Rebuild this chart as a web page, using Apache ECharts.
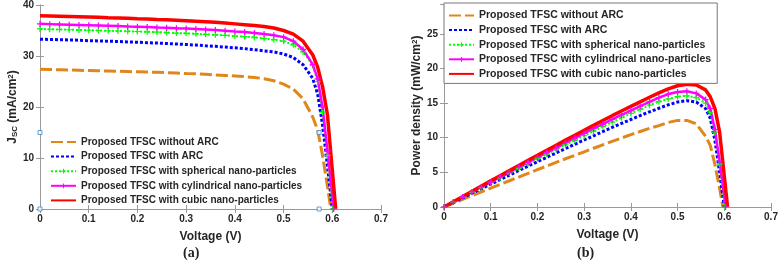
<!DOCTYPE html>
<html>
<head>
<meta charset="utf-8">
<script src="https://cdn.jsdelivr.net/npm/echarts@6/dist/echarts.min.js"></script>
<style>
  html, body { margin: 0; padding: 0; background: #fff; }
  #chart { width: 782px; height: 265px; }
</style>
</head>
<body>
<div id="chart"></div>
<script>
// series names (legend order)
const seriesNames = [
  'Proposed TFSC without ARC',
  'Proposed TFSC with ARC',
  'Proposed TFSC with spherical nano-particles',
  'Proposed TFSC with cylindrical nano-particles',
  'Proposed TFSC with cubic nano-particles'
];
// shared voltage grid (V), each curve then ends at its own Voc
const voltage = [0, 0.02, 0.04, 0.06, 0.08, 0.10, 0.12, 0.14, 0.16, 0.18, 0.20, 0.22, 0.24, 0.26, 0.28, 0.30,
  0.32, 0.34, 0.36, 0.38, 0.40, 0.42, 0.44, 0.46, 0.48, 0.50, 0.52, 0.54, 0.56, 0.57, 0.58, 0.59];
const voc = [0.597, 0.600, 0.601, 0.603, 0.607];

// (a) current density, mA/cm2
const jscWithoutArc = [27.4, 27.35, 27.3, 27.25, 27.2, 27.15, 27.1, 27.05, 27.0, 26.95, 26.9, 26.85, 26.8, 26.75, 26.65, 26.55,
  26.5, 26.4, 26.3, 26.2, 26.1, 25.95, 25.8, 25.55, 25.15, 24.5, 23.5, 21.6, 18.0, 15.5, 10.5, 4.5];
const jscWithArc = [33.3, 33.25, 33.2, 33.15, 33.1, 33.0, 32.95, 32.9, 32.85, 32.75, 32.7, 32.6, 32.55, 32.45, 32.35, 32.25,
  32.15, 32.0, 31.9, 31.75, 31.6, 31.45, 31.25, 31.0, 30.8, 30.4, 29.7, 28.3, 25.6, 22.5, 16.5, 8.5];
const jscSpherical = [35.3, 35.25, 35.2, 35.15, 35.1, 35.05, 35.0, 34.95, 34.9, 34.85, 34.8, 34.75, 34.7, 34.6, 34.5, 34.45,
  34.35, 34.25, 34.15, 34.05, 33.9, 33.8, 33.65, 33.45, 33.2, 32.9, 32.2, 30.8, 28.2, 25.0, 19.0, 10.5];
const jscCylindrical = [36.3, 36.25, 36.2, 36.15, 36.1, 36.05, 36.0, 35.95, 35.9, 35.8, 35.75, 35.7, 35.6, 35.55, 35.45, 35.4,
  35.3, 35.2, 35.1, 34.95, 34.8, 34.7, 34.5, 34.3, 34.05, 33.7, 32.9, 31.3, 28.3, 25.5, 20.0, 11.5];
const jscCubic = [37.9, 37.85, 37.8, 37.75, 37.7, 37.65, 37.6, 37.5, 37.45, 37.4, 37.3, 37.25, 37.15, 37.1, 37.0, 36.9,
  36.8, 36.7, 36.6, 36.45, 36.3, 36.15, 36.0, 35.8, 35.5, 35.0, 34.3, 32.9, 30.2, 27.8, 24.0, 18.5];

// (b) power density, mW/cm2
const pWithoutArc = [0, 0.55, 1.09, 1.64, 2.18, 2.72, 3.25, 3.79, 4.32, 4.85, 5.38, 5.91, 6.43, 6.96, 7.46, 7.97,
  8.48, 8.98, 9.47, 9.96, 10.44, 10.9, 11.35, 11.75, 12.2, 12.5, 12.5, 12.0, 10.2, 8.9, 6.1, 2.7];
const pWithArc = [0, 0.67, 1.33, 1.99, 2.65, 3.3, 3.95, 4.6, 5.26, 5.9, 6.54, 7.17, 7.8, 8.43, 9.05, 9.67,
  10.28, 10.88, 11.48, 12.06, 12.63, 13.2, 13.74, 14.25, 14.75, 15.15, 15.35, 15.15, 14.2, 12.8, 9.6, 5.0];
const pSpherical = [0, 0.71, 1.41, 2.11, 2.81, 3.5, 4.2, 4.89, 5.58, 6.27, 6.96, 7.64, 8.3, 8.97, 9.63, 10.3,
  10.95, 11.6, 12.25, 12.88, 13.5, 14.1, 14.7, 15.2, 15.6, 15.95, 16.05, 15.8, 15.0, 13.6, 10.8, 6.2];
const pCylindrical = [0, 0.73, 1.45, 2.17, 2.89, 3.6, 4.32, 5.03, 5.74, 6.44, 7.15, 7.85, 8.54, 9.24, 9.93, 10.62,
  11.3, 11.97, 12.64, 13.28, 13.92, 14.57, 15.18, 15.78, 16.3, 16.6, 16.7, 16.4, 15.5, 14.2, 11.2, 6.6];
const pCubic = [0, 0.76, 1.51, 2.27, 3.02, 3.77, 4.51, 5.25, 5.99, 6.73, 7.46, 8.2, 8.92, 9.65, 10.36, 11.07,
  11.78, 12.48, 13.18, 13.85, 14.52, 15.18, 15.84, 16.47, 17.04, 17.5, 17.7, 17.6, 16.9, 15.9, 14.2, 10.8];

// data-tip squares left on panel (a)
const tipPoints = [[0, 15], [0.573, 15], [0, 0], [0.573, 0]];

const jscAll = [jscWithoutArc, jscWithArc, jscSpherical, jscCylindrical, jscCubic];
const pAll = [pWithoutArc, pWithArc, pSpherical, pCylindrical, pCubic];

const FONT = 'Liberation Sans';
const AXIS_COLOR = '#9a9a9a';
const cross = 'path://M4,0H6V4H10V6H6V10H4V6H0V4H4Z';
const looks = [
  { color: '#E0861A', width: 3, type: [12, 4], symbol: 'none' },
  { color: '#0000FF', width: 3, type: [3, 2], symbol: 'none' },
  { color: '#00FF00', width: 2, type: [2, 2], symbol: cross, size: 6 },
  { color: '#FF00FF', width: 2.5, type: 'solid', symbol: cross, size: 6 },
  { color: '#FF0000', width: 3.5, type: 'solid', symbol: 'none' }
];

function pairs(ys, i) {
  const out = voltage.map((v, k) => [v, ys[k]]);
  out.push([voc[i], 0]);
  return out;
}

function makeSeries(idx, arrs) {
  return seriesNames.map((name, i) => ({
    name: name,
    type: 'line',
    xAxisIndex: idx,
    yAxisIndex: idx,
    data: pairs(arrs[i], i),
    showSymbol: looks[i].symbol !== 'none',
    symbol: looks[i].symbol,
    symbolSize: looks[i].size || 4,
    itemStyle: { color: looks[i].color },
    lineStyle: { color: looks[i].color, width: looks[i].width, type: looks[i].type, cap: 'butt' },
    silent: true,
    animation: false
  }));
}

// legend entries: hide the marker for the plain lines
const legendData = seriesNames.map((name, i) => (
  looks[i].symbol === 'none' ? { name: name, itemStyle: { opacity: 0 } } : { name: name }
));

const labelStyle = { color: '#262626', fontFamily: FONT, fontWeight: 'bold', fontSize: 10 };
const nameStyle = {
  color: '#262626', fontFamily: FONT, fontWeight: 'bold', fontSize: 12,
  rich: {
    sub: { fontFamily: FONT, fontWeight: 'bold', fontSize: 8, color: '#262626', verticalAlign: 'bottom', lineHeight: 12 },
    sup: { fontFamily: FONT, fontWeight: 'bold', fontSize: 8, color: '#262626', verticalAlign: 'top', lineHeight: 12 }
  }
};

function xAxes(grid) {
  return [
    {
      type: 'value', gridIndex: grid, min: 0, max: 0.7, interval: 0.1,
      name: 'Voltage (V)', nameLocation: 'middle', nameGap: 22, nameTextStyle: nameStyle,
      axisLine: { lineStyle: { color: AXIS_COLOR } },
      axisTick: { inside: true, length: 4, lineStyle: { color: AXIS_COLOR } },
      axisLabel: Object.assign({ margin: 5 }, labelStyle),
      splitLine: { show: false }
    },
    {
      type: 'value', gridIndex: grid, position: 'top', min: 0, max: 0.7, interval: 0.1,
      axisLine: { lineStyle: { color: AXIS_COLOR } },
      axisTick: { inside: true, length: 4, lineStyle: { color: AXIS_COLOR } },
      axisLabel: { show: false }, splitLine: { show: false }
    }
  ];
}

function yAxes(grid, max, interval, name, gap) {
  return [
    {
      type: 'value', gridIndex: grid, min: 0, max: max, interval: interval,
      name: name, nameLocation: 'middle', nameGap: gap, nameTextStyle: nameStyle,
      axisLine: { show: true, lineStyle: { color: AXIS_COLOR } },
      axisTick: { show: true, inside: true, length: 4, lineStyle: { color: AXIS_COLOR } },
      axisLabel: Object.assign({
        margin: 6,
        formatter: v => (Math.abs(v / interval - Math.round(v / interval)) < 1e-6 ? String(v) : '')
      }, labelStyle),
      splitLine: { show: false }
    },
    {
      type: 'value', gridIndex: grid, position: 'right', min: 0, max: max, interval: interval,
      axisLine: { show: true, lineStyle: { color: AXIS_COLOR } },
      axisTick: { show: true, inside: true, length: 4, lineStyle: { color: AXIS_COLOR } },
      axisLabel: { show: false }, splitLine: { show: false }
    }
  ];
}

const legendText = { color: '#262626', fontFamily: FONT, fontWeight: 'bold', fontSize: 10 };

const option = {
  backgroundColor: '#fff',
  animation: false,
  grid: [
    { left: 40, top: 4, width: 341, height: 205 },
    { left: 444, top: 4, width: 327, height: 203 }
  ],
  xAxis: xAxes(0).concat(xAxes(1)),
  yAxis: yAxes(0, 40, 10, 'J{sub|SC} (mA/cm{sup|2})', 21).concat(yAxes(1, 29.3, 5, 'Power density (mW/cm{sup|2})', 20)),
  legend: [
    {
      data: legendData, orient: 'vertical', left: 50, top: 137, padding: 0,
      itemWidth: 25, itemHeight: 6, itemGap: 4.6, textStyle: legendText, selectedMode: false
    },
    {
      data: legendData, orient: 'vertical', left: 444, top: 3, padding: [7, 6, 4, 4],
      itemWidth: 25, itemHeight: 6, itemGap: 3.6, textStyle: Object.assign({}, legendText, { fontSize: 10.5 }),
      selectedMode: false, borderColor: '#777', borderWidth: 1, backgroundColor: '#fff'
    }
  ],
  graphic: [
    { type: 'text', left: 183, top: 246, style: { text: '(a)', font: 'bold 14px "Liberation Serif"', fill: '#222' } },
    { type: 'text', left: 577, top: 246, style: { text: '(b)', font: 'bold 14px "Liberation Serif"', fill: '#222' } }
  ],
  series: makeSeries(0, jscAll).map(s => Object.assign(s, { xAxisIndex: 0, yAxisIndex: 0 }))
    .concat([{
      type: 'scatter', xAxisIndex: 0, yAxisIndex: 0, data: tipPoints, symbol: 'rect', symbolSize: 4,
      itemStyle: { color: '#fff', borderColor: '#3d8ac8', borderWidth: 1 }, silent: true, z: 5
    }])
    .concat(makeSeries(2, pAll).map(s => Object.assign(s, { xAxisIndex: 2, yAxisIndex: 2 })))
};

const chart = echarts.init(document.getElementById('chart'));
chart.setOption(option);
</script>
</body>
</html>
